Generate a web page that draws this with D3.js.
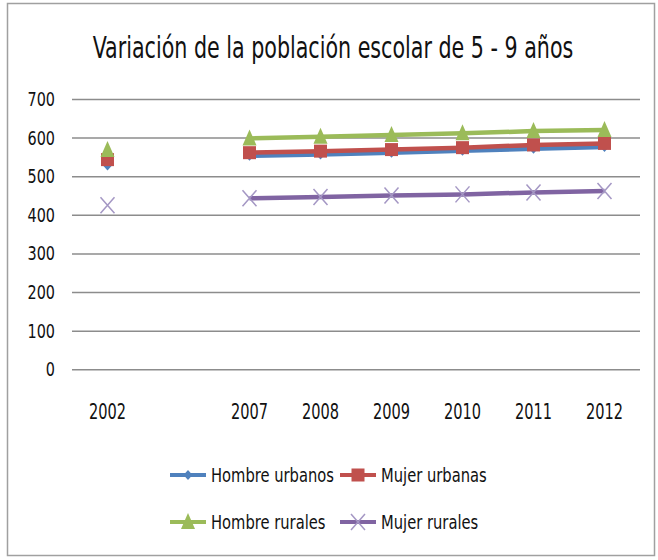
<!DOCTYPE html>
<html>
<head>
<meta charset="utf-8">
<script src="https://cdn.jsdelivr.net/npm/d3@7"></script>
<style>
  body { margin: 0; background: #fff; }
  text { font-family: "DejaVu Sans Condensed", "Liberation Sans Narrow", sans-serif; fill: #111; }
</style>
</head>
<body>
<svg id="chart" width="658" height="560"></svg>
<script>
// categorias (hay una vacía entre 2002 y 2007)
let years = ['2002', '', '2007', '2008', '2009', '2010', '2011', '2012'];
let hombreUrbanos = [528, null, 553, 556, 561, 566, 571, 576];
let mujerUrbanas  = [543, null, 561, 565, 569, 574, 581, 585];
let hombreRurales = [568, null, 598, 602, 607, 611, 617, 620];
let mujerRurales  = [425, null, 443, 446, 450, 453, 458, 462];
let yTicks = [0, 100, 200, 300, 400, 500, 600, 700];

let series = [
  { name: 'Hombre urbanos', values: hombreUrbanos, color: '#4F81BD', marker: 'diamond' },
  { name: 'Mujer urbanas', values: mujerUrbanas, color: '#C0504D', marker: 'square' },
  { name: 'Hombre rurales', values: hombreRurales, color: '#9BBB59', marker: 'triangle' },
  { name: 'Mujer rurales', values: mujerRurales, color: '#8064A2', marker: 'x' }
];

let svg = d3.select('#chart');

// texto estrecho y alto como el Calibri del original
let label = (parent, tx, ty, str, size, k, anchor) => {
  parent.append('g')
    .attr('transform', `translate(${tx},${ty}) scale(${k},1)`)
    .append('text')
    .attr('text-anchor', anchor || 'start')
    .attr('font-size', size)
    .text(str);
};

// marco
svg.append('rect')
  .attr('x', 7.5).attr('y', 3.5)
  .attr('width', 647).attr('height', 552)
  .attr('fill', 'none')
  .attr('stroke', '#a0a0a0')
  .attr('stroke-width', 1.5);

label(svg, 333, 58, 'Variación de la población escolar de 5 - 9 años', 30, 0.765, 'middle');

let x = d3.scaleBand().domain(years).range([72, 640]).padding(0);
let y = d3.scaleLinear().domain([0, 700]).range([369.3, 99]);

let cx = (d) => x(d) + x.bandwidth() / 2;

// rejilla
svg.append('g')
  .attr('transform', 'translate(72,0)')
  .call(d3.axisLeft(y).tickValues(yTicks).tickSize(-568).tickFormat(''))
  .call(g => g.select('.domain').remove())
  .call(g => g.selectAll('line').attr('stroke', '#8c8c8c').attr('stroke-width', 1.5));

let yLabels = svg.append('g');
yTicks.forEach(t => label(yLabels, 55, y(t) + 7, String(t), 20, 0.8, 'end'));

let xLabels = svg.append('g');
years.filter(d => d !== '').forEach(d => label(xLabels, cx(d), 419, d, 21, 0.77, 'middle'));

let line = d3.line()
  .defined(d => d.v !== null)
  .x(d => cx(d.year))
  .y(d => y(d.v));

let drawMarker = (g, type, color, px, py) => {
  if (type === 'diamond') {
    g.append('path')
      .attr('d', `M${px},${py - 5}L${px + 4.5},${py}L${px},${py + 5}L${px - 4.5},${py}Z`)
      .attr('fill', color);
  } else if (type === 'square') {
    g.append('rect')
      .attr('x', px - 6.5).attr('y', py - 6.5)
      .attr('width', 13).attr('height', 13)
      .attr('fill', color);
  } else if (type === 'triangle') {
    g.append('path')
      .attr('d', `M${px},${py - 9}L${px + 7},${py + 7}L${px - 7},${py + 7}Z`)
      .attr('fill', color);
  } else {
    g.append('path')
      .attr('d', `M${px - 7},${py - 8}L${px + 7},${py + 8}M${px + 7},${py - 8}L${px - 7},${py + 8}`)
      .attr('stroke', '#a497c4')
      .attr('stroke-width', 1.5)
      .attr('fill', 'none');
  }
};

series.forEach(s => {
  let pts = years.map((yr, i) => ({ year: yr, v: s.values[i] }));
  let g = svg.append('g');
  g.append('path')
    .datum(pts)
    .attr('d', line)
    .attr('fill', 'none')
    .attr('stroke', s.color)
    .attr('stroke-width', 4.5);
  pts.filter(d => d.v !== null).forEach(d => drawMarker(g, s.marker, s.color, cx(d.year), y(d.v)));
});

// leyenda
let legendPos = [[170, 475], [340, 475], [170, 522], [340, 522]];
series.forEach((s, i) => {
  let [lx, ly] = legendPos[i];
  let g = svg.append('g');
  g.append('line')
    .attr('x1', lx).attr('x2', lx + 36)
    .attr('y1', ly).attr('y2', ly)
    .attr('stroke', s.color).attr('stroke-width', 4);
  drawMarker(g, s.marker, s.color, lx + 18, ly);
  label(g, lx + 41, ly + 7, s.name, 19.5, 0.84);
});
</script>
</body>
</html>
